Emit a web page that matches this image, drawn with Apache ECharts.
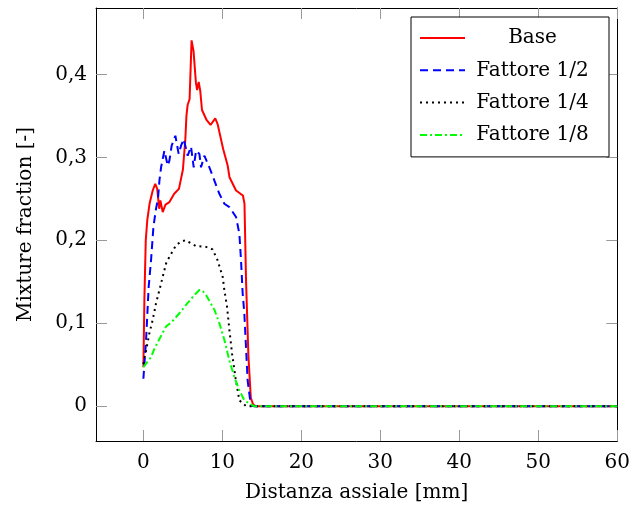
<!DOCTYPE html>
<html>
<head>
<meta charset="utf-8">
<script src="https://cdn.jsdelivr.net/npm/echarts@6/dist/echarts.min.js"></script>
<style>html,body{margin:0;padding:0;background:#fff}#c{width:633px;height:513px}</style>
</head>
<body>
<div id="c"></div>
<script>
const seriesNames = ['Base', 'Fattore 1/2', 'Fattore 1/4', 'Fattore 1/8'];
const xTicks = [0, 10, 20, 30, 40, 50, 60];
const yTicks = [0, 0.1, 0.2, 0.3, 0.4];

const baseX = [0, 0.13, 0.3, 0.5, 0.8, 1.18, 1.5, 1.75, 2.0, 2.15, 2.45, 2.8, 3.3, 3.9, 4.5, 5.0, 5.3, 5.45, 5.6, 5.85, 6.1, 6.35, 6.65, 6.8, 7.0, 7.2, 7.42, 8.0, 8.5, 9.1, 9.4, 10.1, 10.67, 10.9, 11.73, 12.3, 12.6, 12.8, 13.0, 13.3, 13.6, 13.9, 14.2, 60];
const baseY = [0.047, 0.13, 0.2, 0.225, 0.245, 0.26, 0.268, 0.262, 0.238, 0.248, 0.234, 0.243, 0.246, 0.256, 0.262, 0.285, 0.32, 0.35, 0.363, 0.37, 0.441, 0.428, 0.39, 0.381, 0.391, 0.38, 0.357, 0.345, 0.339, 0.347, 0.34, 0.31, 0.29, 0.276, 0.26, 0.256, 0.254, 0.244, 0.15, 0.06, 0.01, 0.002, 0, 0];

const halfX = [0, 0.34, 0.67, 0.97, 1.27, 1.6, 1.85, 2.03, 2.24, 2.66, 3.08, 3.29, 3.58, 4.05, 4.47, 4.77, 5.1, 5.61, 6.03, 6.37, 6.67, 7.09, 7.3, 7.72, 8.35, 8.99, 9.62, 10.25, 10.89, 11.73, 12.15, 12.36, 12.57, 12.78, 13.2, 13.6, 14, 60];
const halfY = [0.033, 0.08, 0.144, 0.176, 0.216, 0.238, 0.25, 0.272, 0.288, 0.308, 0.29, 0.296, 0.314, 0.326, 0.304, 0.314, 0.322, 0.302, 0.313, 0.288, 0.308, 0.304, 0.288, 0.302, 0.288, 0.272, 0.256, 0.244, 0.24, 0.228, 0.208, 0.176, 0.136, 0.112, 0.031, 0.001, 0, 0];

const quarterX = [0, 0.34, 0.76, 1.18, 1.6, 2.03, 2.45, 2.87, 3.29, 4.13, 4.7, 5.32, 5.9, 6.67, 7.93, 8.76, 9.39, 10.04, 10.25, 10.59, 10.89, 11.23, 11.65, 12.15, 13, 60];
const quarterY = [0.051, 0.067, 0.088, 0.104, 0.124, 0.14, 0.156, 0.172, 0.18, 0.194, 0.198, 0.2, 0.197, 0.193, 0.192, 0.189, 0.176, 0.156, 0.14, 0.12, 0.092, 0.063, 0.035, 0.007, 0, 0];

const eighthX = [0, 0.13, 0.97, 1.39, 2.03, 2.87, 3.63, 4.56, 5.4, 6.46, 7.09, 7.5, 7.93, 9.0, 9.62, 10.25, 10.89, 11.52, 12.15, 12.78, 14, 60];
const eighthY = [0.047, 0.049, 0.059, 0.069, 0.081, 0.096, 0.102, 0.112, 0.122, 0.134, 0.14, 0.139, 0.134, 0.116, 0.1, 0.08, 0.055, 0.035, 0.019, 0.007, 0, 0];

const FONT = 'DejaVu Serif';
const pair = (xs, ys) => xs.map((x, i) => [x, ys[i]]);
const fmtY = v => (Math.abs(v) < 1e-9 ? '0' : v.toFixed(1).replace('.', ','));

const tick = { show: true, inside: true, length: 11, lineStyle: { color: '#999', width: 1 } };
const axLine = { show: true, onZero: false, lineStyle: { color: '#000', width: 1 } };

const chart = echarts.init(document.getElementById('c'), null, { renderer: 'canvas' });
chart.setOption({
  animation: false,
  backgroundColor: '#fff',
  grid: { left: 96, right: 15, top: 8, bottom: 72, containLabel: false },
  xAxis: [
    {
      type: 'value', min: -6, max: 60,
      axisLine: axLine,
      axisTick: Object.assign({}, tick, { customValues: xTicks }),
      axisLabel: { customValues: xTicks, margin: 12, color: '#000', fontFamily: FONT, fontSize: 20 },
      splitLine: { show: false },
      name: 'Distanza assiale [mm]', nameLocation: 'middle', nameGap: 42,
      nameTextStyle: { color: '#000', fontFamily: FONT, fontSize: 20 }
    },
    {
      type: 'value', min: -6, max: 60, position: 'top',
      axisLine: axLine,
      axisTick: Object.assign({}, tick, { customValues: xTicks }),
      axisLabel: { show: false },
      splitLine: { show: false }
    }
  ],
  yAxis: [
    {
      type: 'value', min: -0.042, max: 0.48,
      axisLine: axLine,
      axisTick: Object.assign({}, tick, { customValues: yTicks }),
      axisLabel: { customValues: yTicks, formatter: fmtY, margin: 9, color: '#000', fontFamily: FONT, fontSize: 20 },
      splitLine: { show: false },
      name: 'Mixture fraction [-]', nameLocation: 'middle', nameGap: 60,
      nameTextStyle: { color: '#000', fontFamily: FONT, fontSize: 20 }
    },
    {
      type: 'value', min: -0.042, max: 0.48, position: 'right',
      axisLine: axLine,
      axisTick: Object.assign({}, tick, { customValues: yTicks }),
      axisLabel: { show: false },
      splitLine: { show: false }
    }
  ],
  legend: {
    orient: 'vertical', left: 411, top: 17,
    padding: [11, 14, 12, 8],
    borderColor: '#000', borderWidth: 1, backgroundColor: '#fff',
    itemWidth: 45, itemHeight: 14, itemGap: 12.3,
    data: seriesNames,
    itemStyle: { opacity: 0 },
    formatter: n => '{a|' + n + '}',
    textStyle: {
      rich: { a: { width: 125, height: 20, lineHeight: 20, align: 'center', color: '#000', fontFamily: FONT, fontSize: 20 } }
    }
  },
  series: [
    { name: seriesNames[0], type: 'line', symbol: 'none', data: pair(baseX, baseY),
      lineStyle: { color: '#ff0000', width: 2 }, itemStyle: { color: '#ff0000' } },
    { name: seriesNames[1], type: 'line', symbol: 'none', data: pair(halfX, halfY),
      lineStyle: { color: '#0000ff', width: 2, type: [8, 5] }, itemStyle: { color: '#0000ff' } },
    { name: seriesNames[2], type: 'line', symbol: 'none', data: pair(quarterX, quarterY),
      lineStyle: { color: '#000000', width: 2, type: [2, 4] }, itemStyle: { color: '#000000' } },
    { name: seriesNames[3], type: 'line', symbol: 'none', data: pair(eighthX, eighthY),
      lineStyle: { color: '#00ff00', width: 2, type: [7, 3, 2, 3] }, itemStyle: { color: '#00ff00' } }
  ]
});
</script>
</body>
</html>
